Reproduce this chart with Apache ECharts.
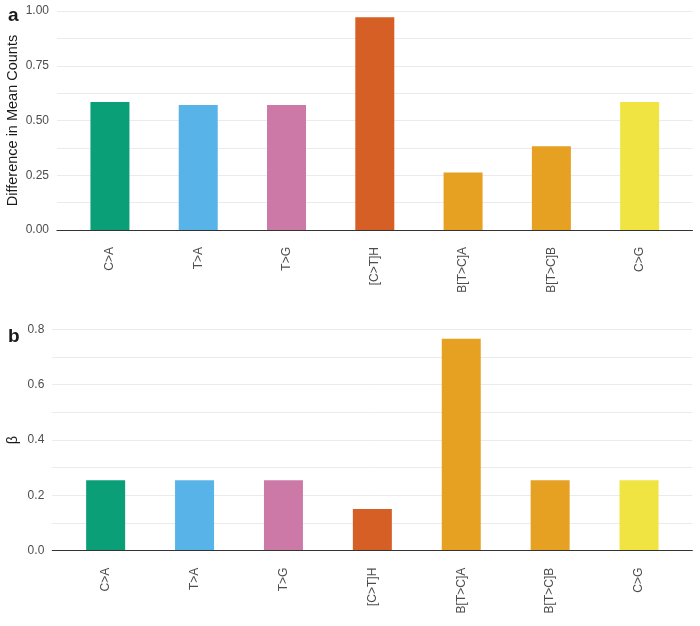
<!DOCTYPE html>
<html>
<head>
<meta charset="utf-8">
<script src="https://cdn.jsdelivr.net/npm/echarts@6/dist/echarts.min.js"></script>
<style>
html,body{margin:0;padding:0;background:#fff;}
#chart{width:700px;height:626px;}
</style>
</head>
<body>
<div id="chart"></div>
<script>
// ---- data ----
var categories = ['C>A', 'T>A', 'T>G', '[C>T]H', 'B[T>C]A', 'B[T>C]B', 'C>G'];
var diffMeanCounts = [0.584, 0.571, 0.571, 0.971, 0.262, 0.382, 0.584];
var betaValues = [0.255, 0.255, 0.255, 0.151, 0.766, 0.255, 0.255];
var topTicks = [0, 0.25, 0.5, 0.75, 1.0];
var bottomTicks = [0, 0.2, 0.4, 0.6, 0.8];

// ---- styles ----
var palette = ['#0a9f77', '#58b4e8', '#cc79a7', '#d55f24', '#e6a022', '#e6a022', '#f0e442'];
var FONT = 'Liberation Sans, Arial, sans-serif';
var labelColor = '#4d4d4d';
var gridColor = '#ebebeb';

function frameX(gi) {
  return {
    type: 'value', gridIndex: gi, min: 0, max: 1, z: 5,
    axisLine: {show: true, onZero: false, lineStyle: {color: '#333', width: 1.2}},
    axisTick: {show: false}, axisLabel: {show: false}, splitLine: {show: false}
  };
}
function barX(gi) {
  return {
    type: 'category', gridIndex: gi, data: categories,
    axisLine: {show: false}, axisTick: {show: false},
    axisLabel: {rotate: 90, margin: 17, color: labelColor, fontSize: 12, fontFamily: FONT, interval: 0},
    splitLine: {show: false}
  };
}
function frameY(gi, max, interval, digits, name, nameGap) {
  return {
    type: 'value', gridIndex: gi, min: 0, max: max, interval: interval,
    name: name, nameLocation: 'middle', nameRotate: 90, nameGap: nameGap,
    nameMoveOverlap: false,
    nameTextStyle: {color: '#1a1a1a', fontSize: 14.5, fontFamily: FONT},
    axisLine: {show: false}, axisTick: {show: false},
    axisLabel: {color: labelColor, fontSize: 12, fontFamily: FONT, margin: 8,
      formatter: function (v) { return v.toFixed(digits); }},
    splitLine: {show: true, lineStyle: {color: gridColor, width: 1}},
    minorTick: {show: false, splitNumber: 2},
    minorSplitLine: {show: true, lineStyle: {color: gridColor, width: 1}}
  };
}
function hiddenY(gi, max) {
  return {type: 'value', gridIndex: gi, min: 0, max: max, show: false, splitLine: {show: false}};
}
function barData(vals) {
  return vals.map(function (v, i) { return {value: v, itemStyle: {color: palette[i]}}; });
}
function g(left, width, top, height) {
  return {left: left, width: width, top: top, height: height, containLabel: false, outerBoundsMode: 'none'};
}

var chart = echarts.init(document.getElementById('chart'), null, {renderer: 'canvas'});
chart.setOption({
  animation: false,
  backgroundColor: '#fff',
  title: [
    {text: 'a', left: 3, top: 1, textStyle: {fontSize: 19, fontWeight: 'bold', color: '#1a1a1a', fontFamily: FONT}},
    {text: 'b', left: 3, top: 322, textStyle: {fontSize: 19, fontWeight: 'bold', color: '#1a1a1a', fontFamily: FONT}}
  ],
  grid: [
    g(57, 635.5, 11, 219),
    g(65.8, 618, 11, 219),
    g(52.3, 640, 329.3, 221.4),
    g(61.2, 622.3, 329.3, 221.4)
  ],
  xAxis: [frameX(0), barX(1), frameX(2), barX(3)],
  yAxis: [
    frameY(0, 1.0, 0.25, 2, 'Difference in Mean Counts', 37),
    hiddenY(1, 1.0),
    frameY(2, 0.8, 0.2, 1, 'β', 32),
    hiddenY(3, 0.8)
  ],
  series: [
    {type: 'bar', xAxisIndex: 1, yAxisIndex: 1, barWidth: 39, data: barData(diffMeanCounts)},
    {type: 'bar', xAxisIndex: 3, yAxisIndex: 3, barWidth: 39, data: barData(betaValues)}
  ]
});
</script>
</body>
</html>
